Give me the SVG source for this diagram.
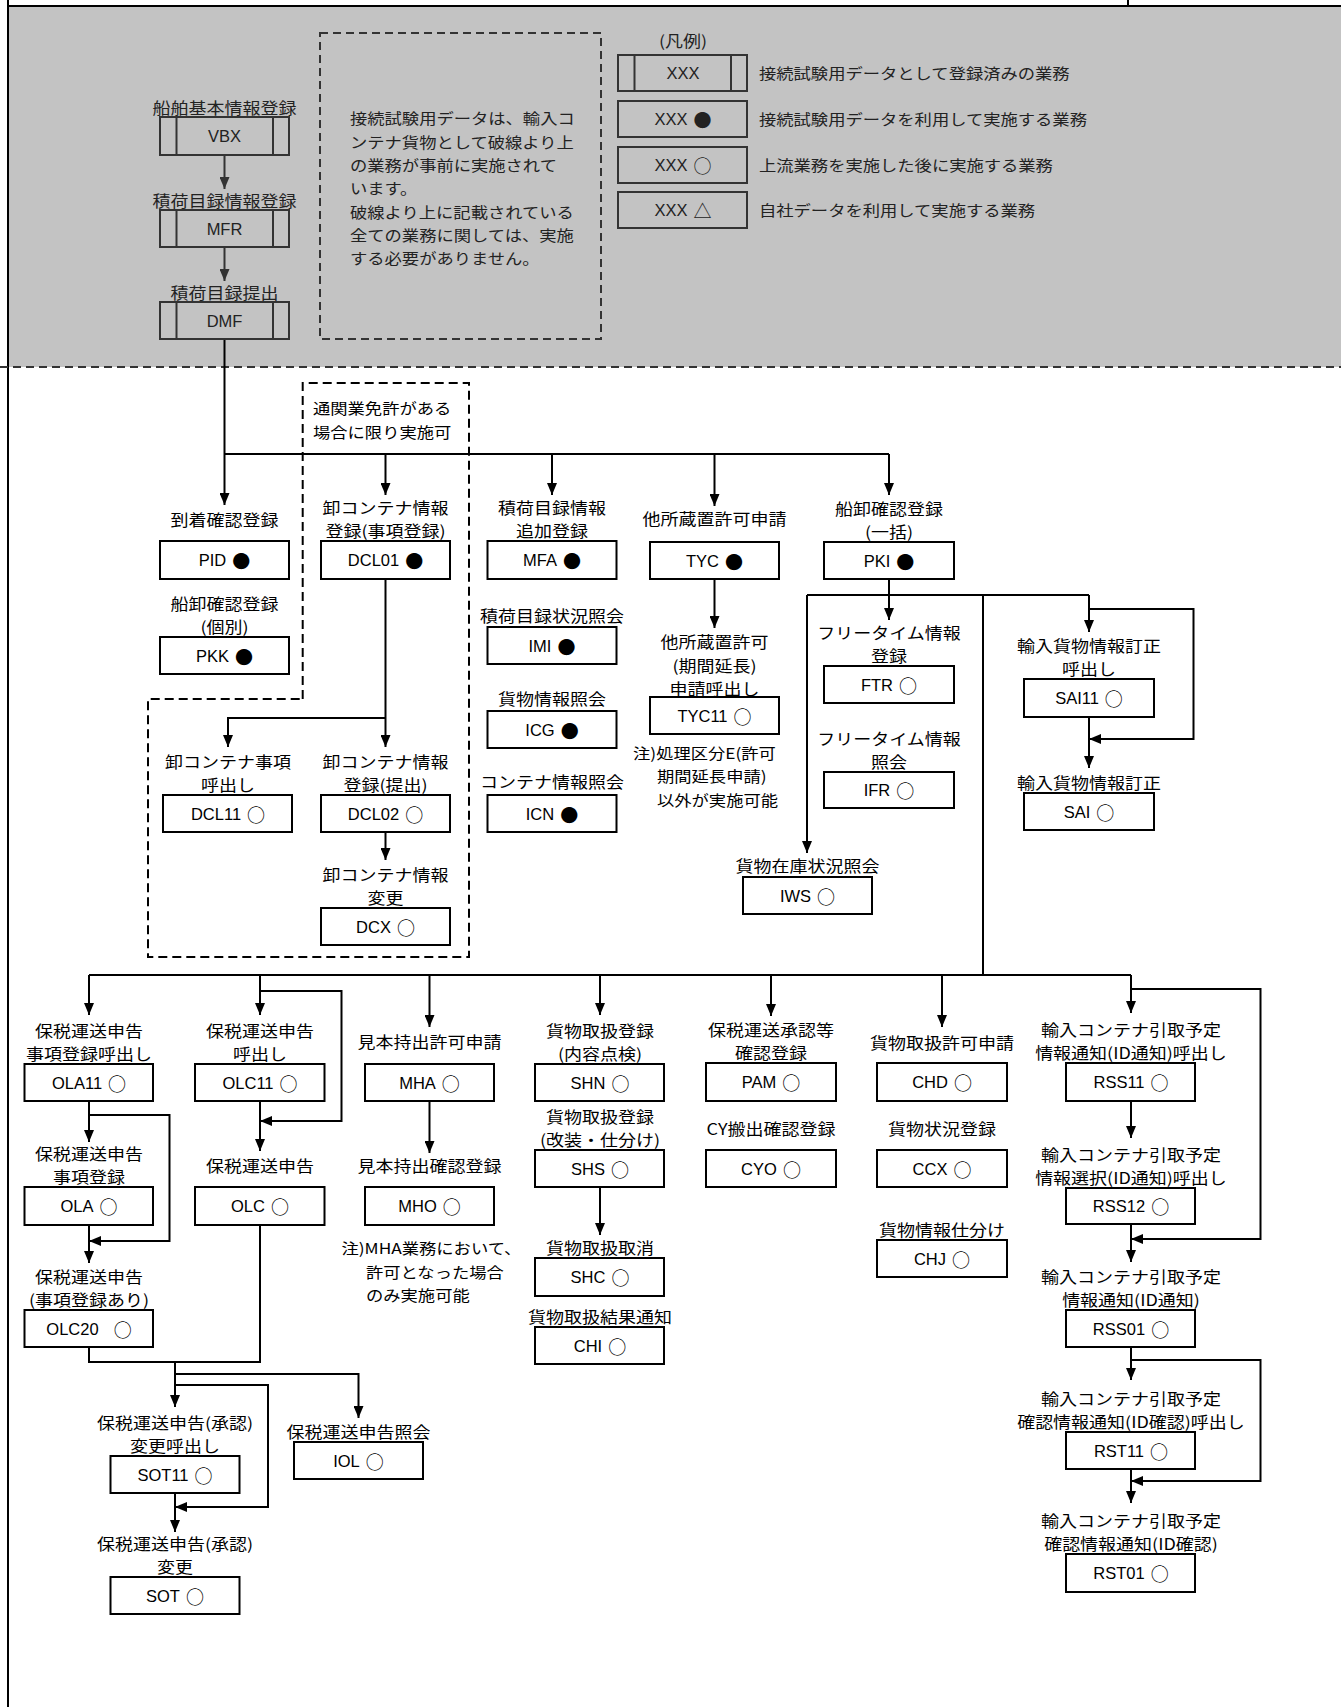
<svg xmlns="http://www.w3.org/2000/svg" width="1341" height="1707" viewBox="0 0 1341 1707">
<defs>
<style>
.t{font-family:"Noto Sans CJK JP","Liberation Sans",sans-serif;font-size:18px;fill:#000;text-anchor:middle;dominant-baseline:central;transform-box:fill-box;transform-origin:50% 50%;transform:scaleY(0.87)}
.tl{font-family:"Noto Sans CJK JP","Liberation Sans",sans-serif;font-size:17.3px;fill:#000;dominant-baseline:central;transform-box:fill-box;transform-origin:50% 50%;transform:scaleY(0.87)}
.bt{font-family:"Liberation Sans","Noto Sans CJK JP",sans-serif;font-size:16.5px;fill:#000;text-anchor:middle;dominant-baseline:central}
.sy{font-family:"Noto Sans CJK JP",sans-serif;font-size:18px}
.tg{fill:#222}
.b{fill:#fff;stroke:#000;stroke-width:2}
.gb{fill:none;stroke:#333;stroke-width:2}
.c{fill:none;stroke:#000;stroke-width:2}
.ca{fill:none;stroke:#000;stroke-width:2;marker-end:url(#ah)}
.gc{fill:none;stroke:#333;stroke-width:2;marker-end:url(#ahg)}
.d{fill:none;stroke:#000;stroke-width:2;stroke-dasharray:9 5}
.gd{fill:none;stroke:#333;stroke-width:2;stroke-dasharray:8 5}
</style>
<marker id="ah" markerUnits="userSpaceOnUse" markerWidth="12" markerHeight="10" refX="12" refY="5" orient="auto"><path d="M0,0 L12,5 L0,10 z" fill="#000"/></marker>
<marker id="ahg" markerUnits="userSpaceOnUse" markerWidth="12" markerHeight="10" refX="12" refY="5" orient="auto"><path d="M0,0 L12,5 L0,10 z" fill="#333"/></marker>
</defs>
<rect x="0" y="0" width="1341" height="1707" fill="#fff"/>
<rect x="8" y="6" width="1333" height="361" fill="#c3c3c3"/>
<g id="frame">
<line class="c" x1="8" y1="0" x2="8" y2="1707"/>
<line class="c" x1="8" y1="6" x2="1341" y2="6"/>
<line class="c" x1="1128" y1="0" x2="1128" y2="6"/>
<line class="gd" x1="0" y1="367" x2="1341" y2="367"/>
</g>
<g id="note-top">
<rect class="gd" x="320" y="33" width="281" height="306"/>
<text class="tl tg" x="350" y="118">接続試験用データは、輸入コ</text>
<text class="tl tg" x="350" y="142">ンテナ貨物として破線より上</text>
<text class="tl tg" x="350" y="165">の業務が事前に実施されて</text>
<text class="tl tg" x="350" y="188">います。</text>
<text class="tl tg" x="350" y="212">破線より上に記載されている</text>
<text class="tl tg" x="350" y="235">全ての業務に関しては、実施</text>
<text class="tl tg" x="350" y="258">する必要がありません。</text>
</g>
<g id="legend">
<text class="t tg" x="683" y="40">(凡例)</text>
<rect class="gb" x="618" y="55" width="129" height="36"/>
<line class="gb" x1="634.5" y1="55" x2="634.5" y2="91"/>
<line class="gb" x1="731" y1="55" x2="731" y2="91"/>
<text class="bt tg" x="683" y="73">XXX</text>
<rect class="gb" x="618" y="101" width="129" height="36"/>
<text class="bt tg" x="683" y="119">XXX<tspan class="sy" dx="6">●</tspan></text>
<rect class="gb" x="618" y="147" width="129" height="36"/>
<text class="bt tg" x="683" y="165">XXX<tspan class="sy" dx="6">○</tspan></text>
<rect class="gb" x="618" y="192" width="129" height="36"/>
<text class="bt tg" x="683" y="210">XXX<tspan class="sy" dx="6">△</tspan></text>
<text class="tl tg" x="759" y="73">接続試験用データとして登録済みの業務</text>
<text class="tl tg" x="759" y="119">接続試験用データを利用して実施する業務</text>
<text class="tl tg" x="759" y="165">上流業務を実施した後に実施する業務</text>
<text class="tl tg" x="759" y="210">自社データを利用して実施する業務</text>
</g>
<g id="connectors">
<line class="gc" x1="224.5" y1="155" x2="224.5" y2="189"/>
<line class="gc" x1="224.5" y1="247" x2="224.5" y2="281"/>
<line class="ca" x1="224.5" y1="339" x2="224.5" y2="505"/>
<line class="c" x1="224.5" y1="454" x2="889" y2="454"/>
<line class="ca" x1="385.5" y1="454" x2="385.5" y2="495"/>
<line class="ca" x1="552" y1="454" x2="552" y2="495"/>
<line class="ca" x1="714.5" y1="454" x2="714.5" y2="506"/>
<line class="ca" x1="889" y1="454" x2="889" y2="495"/>
<line class="ca" x1="385.5" y1="579" x2="385.5" y2="747"/>
<polyline class="ca" points="385.5,718 228,718 228,747"/>
<line class="ca" x1="385.5" y1="832" x2="385.5" y2="860"/>
<line class="ca" x1="714.5" y1="579" x2="714.5" y2="628"/>
<line class="ca" x1="889" y1="579" x2="889" y2="620"/>
<line class="c" x1="807" y1="595" x2="1089" y2="595"/>
<line class="ca" x1="807" y1="595" x2="807" y2="853"/>
<line class="c" x1="983" y1="595" x2="983" y2="975"/>
<line class="ca" x1="1089" y1="595" x2="1089" y2="632"/>
<polyline class="ca" points="1089,609 1193.5,609 1193.5,739 1089,739"/>
<line class="ca" x1="1089" y1="717" x2="1089" y2="768"/>
<line class="c" x1="89" y1="975" x2="1131" y2="975"/>
<line class="ca" x1="89" y1="975" x2="89" y2="1015"/>
<line class="ca" x1="260" y1="975" x2="260" y2="1015"/>
<line class="ca" x1="429.5" y1="975" x2="429.5" y2="1027"/>
<line class="ca" x1="600" y1="975" x2="600" y2="1015"/>
<line class="ca" x1="771" y1="975" x2="771" y2="1016"/>
<line class="ca" x1="942" y1="975" x2="942" y2="1027"/>
<line class="ca" x1="1131" y1="975" x2="1131" y2="1013"/>
<polyline class="ca" points="260,991 341.5,991 341.5,1121 260,1121"/>
<line class="ca" x1="260" y1="1101" x2="260" y2="1151"/>
<line class="ca" x1="89" y1="1101" x2="89" y2="1142"/>
<polyline class="ca" points="89,1115 169.5,1115 169.5,1241 89,1241"/>
<line class="ca" x1="89" y1="1225" x2="89" y2="1263"/>
<line class="ca" x1="429.5" y1="1101" x2="429.5" y2="1153"/>
<line class="ca" x1="600" y1="1187" x2="600" y2="1235"/>
<polyline class="c" points="89,1347 89,1362 260,1362 260,1225"/>
<line class="ca" x1="175" y1="1362" x2="175" y2="1407"/>
<polyline class="ca" points="175,1374 358.5,1374 358.5,1418"/>
<polyline class="ca" points="175,1385 268,1385 268,1507 175,1507"/>
<line class="ca" x1="175" y1="1493" x2="175" y2="1532"/>
<polyline class="ca" points="1131,989 1260.5,989 1260.5,1239 1131,1239"/>
<line class="ca" x1="1131" y1="1101" x2="1131" y2="1138"/>
<line class="ca" x1="1131" y1="1224" x2="1131" y2="1262"/>
<polyline class="ca" points="1131,1360 1260.5,1360 1260.5,1481 1131,1481"/>
<line class="ca" x1="1131" y1="1347" x2="1131" y2="1380"/>
<line class="ca" x1="1131" y1="1469" x2="1131" y2="1503"/>
</g>
<g id="n-VBX">
<text class="t tg" x="224.5" y="107">船舶基本情報登録</text>
<rect class="gb" x="160" y="117" width="129" height="38"/>
<line class="gb" x1="176.5" y1="117" x2="176.5" y2="155"/>
<line class="gb" x1="273" y1="117" x2="273" y2="155"/>
<text class="bt tg" x="224.5" y="136">VBX</text>
</g>
<g id="n-MFR">
<text class="t tg" x="224.5" y="200">積荷目録情報登録</text>
<rect class="gb" x="160" y="210" width="129" height="37"/>
<line class="gb" x1="176.5" y1="210" x2="176.5" y2="247"/>
<line class="gb" x1="273" y1="210" x2="273" y2="247"/>
<text class="bt tg" x="224.5" y="228.5">MFR</text>
</g>
<g id="n-DMF">
<text class="t tg" x="224.5" y="292.5">積荷目録提出</text>
<rect class="gb" x="160" y="302" width="129" height="37"/>
<line class="gb" x1="176.5" y1="302" x2="176.5" y2="339"/>
<line class="gb" x1="273" y1="302" x2="273" y2="339"/>
<text class="bt tg" x="224.5" y="320.5">DMF</text>
</g>
<g id="customs-zone">
<path class="d" d="M302.7,699 L302.7,383 L469,383 L469,957 L148,957 L148,699 Z"/>
<text class="tl" x="313" y="408">通関業免許がある</text>
<text class="tl" x="313" y="432">場合に限り実施可</text>
</g>
<g id="n-PID">
<text class="t" x="224.5" y="519">到着確認登録</text>
<rect class="b" x="160" y="541" width="129" height="38"/>
<text class="bt" x="224.5" y="560">PID<tspan class="sy" dx="6">●</tspan></text>
</g>
<g id="n-PKK">
<text class="t" x="224.5" y="603">船卸確認登録</text>
<text class="t" x="224.5" y="626.5">(個別)</text>
<rect class="b" x="160" y="637" width="129" height="37"/>
<text class="bt" x="224.5" y="655.5">PKK<tspan class="sy" dx="6">●</tspan></text>
</g>
<g id="n-DCL01">
<text class="t" x="385.5" y="507">卸コンテナ情報</text>
<text class="t" x="385.5" y="530.5">登録(事項登録)</text>
<rect class="b" x="321" y="541" width="129" height="38"/>
<text class="bt" x="385.5" y="560">DCL01<tspan class="sy" dx="6">●</tspan></text>
</g>
<g id="n-MFA">
<text class="t" x="552" y="507">積荷目録情報</text>
<text class="t" x="552" y="530.5">追加登録</text>
<rect class="b" x="487.5" y="541" width="129" height="38"/>
<text class="bt" x="552" y="560">MFA<tspan class="sy" dx="6">●</tspan></text>
</g>
<g id="n-IMI">
<text class="t" x="552" y="615">積荷目録状況照会</text>
<rect class="b" x="487.5" y="627" width="129" height="37"/>
<text class="bt" x="552" y="645.5">IMI<tspan class="sy" dx="6">●</tspan></text>
</g>
<g id="n-ICG">
<text class="t" x="552" y="698">貨物情報照会</text>
<rect class="b" x="487.5" y="711" width="129" height="37"/>
<text class="bt" x="552" y="729.5">ICG<tspan class="sy" dx="6">●</tspan></text>
</g>
<g id="n-ICN">
<text class="t" x="552" y="781">コンテナ情報照会</text>
<rect class="b" x="487.5" y="795" width="129" height="37"/>
<text class="bt" x="552" y="813.5">ICN<tspan class="sy" dx="6">●</tspan></text>
</g>
<g id="n-TYC">
<text class="t" x="714.5" y="518">他所蔵置許可申請</text>
<rect class="b" x="650" y="542" width="129" height="37"/>
<text class="bt" x="714.5" y="560.5">TYC<tspan class="sy" dx="6">●</tspan></text>
</g>
<g id="n-TYC11">
<text class="t" x="714.5" y="641.5">他所蔵置許可</text>
<text class="t" x="714.5" y="665">(期間延長)</text>
<text class="t" x="714.5" y="688">申請呼出し</text>
<rect class="b" x="650" y="697" width="129" height="37"/>
<text class="bt" x="714.5" y="715.5">TYC11<tspan class="sy" dx="6">○</tspan></text>
</g>
<g id="note-TYC">
<text class="tl" x="633" y="753">注)処理区分E(許可</text>
<text class="tl" x="657" y="776">期間延長申請)</text>
<text class="tl" x="657" y="800">以外が実施可能</text>
</g>
<g id="n-PKI">
<text class="t" x="889" y="508">船卸確認登録</text>
<text class="t" x="889" y="531.5">(一括)</text>
<rect class="b" x="824" y="542" width="130" height="37"/>
<text class="bt" x="889" y="560.5">PKI<tspan class="sy" dx="6">●</tspan></text>
</g>
<g id="n-FTR">
<text class="t" x="889" y="632">フリータイム情報</text>
<text class="t" x="889" y="655.5">登録</text>
<rect class="b" x="824" y="666" width="130" height="37"/>
<text class="bt" x="889" y="684.5">FTR<tspan class="sy" dx="6">○</tspan></text>
</g>
<g id="n-IFR">
<text class="t" x="889" y="738">フリータイム情報</text>
<text class="t" x="889" y="761.5">照会</text>
<rect class="b" x="824" y="772" width="130" height="36"/>
<text class="bt" x="889" y="790">IFR<tspan class="sy" dx="6">○</tspan></text>
</g>
<g id="n-IWS">
<text class="t" x="807.5" y="865">貨物在庫状況照会</text>
<rect class="b" x="743" y="877" width="129" height="37"/>
<text class="bt" x="807.5" y="895.5">IWS<tspan class="sy" dx="6">○</tspan></text>
</g>
<g id="n-SAI11">
<text class="t" x="1089" y="645">輸入貨物情報訂正</text>
<text class="t" x="1089" y="668.5">呼出し</text>
<rect class="b" x="1024" y="679" width="130" height="38"/>
<text class="bt" x="1089" y="698">SAI11<tspan class="sy" dx="6">○</tspan></text>
</g>
<g id="n-SAI">
<text class="t" x="1089" y="782">輸入貨物情報訂正</text>
<rect class="b" x="1024" y="793" width="130" height="37"/>
<text class="bt" x="1089" y="811.5">SAI<tspan class="sy" dx="6">○</tspan></text>
</g>
<g id="n-DCL11">
<text class="t" x="228" y="761">卸コンテナ事項</text>
<text class="t" x="228" y="784.5">呼出し</text>
<rect class="b" x="163" y="795" width="129" height="37"/>
<text class="bt" x="228" y="813.5">DCL11<tspan class="sy" dx="6">○</tspan></text>
</g>
<g id="n-DCL02">
<text class="t" x="385.5" y="761">卸コンテナ情報</text>
<text class="t" x="385.5" y="784.5">登録(提出)</text>
<rect class="b" x="321" y="795" width="129" height="37"/>
<text class="bt" x="385.5" y="813.5">DCL02<tspan class="sy" dx="6">○</tspan></text>
</g>
<g id="n-DCX">
<text class="t" x="385.5" y="874">卸コンテナ情報</text>
<text class="t" x="385.5" y="897.5">変更</text>
<rect class="b" x="321" y="908" width="129" height="37"/>
<text class="bt" x="385.5" y="926.5">DCX<tspan class="sy" dx="6">○</tspan></text>
</g>
<g id="n-OLA11">
<text class="t" x="89" y="1030">保税運送申告</text>
<text class="t" x="89" y="1053.5">事項登録呼出し</text>
<rect class="b" x="24.5" y="1064" width="128.5" height="37"/>
<text class="bt" x="89" y="1082.5">OLA11<tspan class="sy" dx="6">○</tspan></text>
</g>
<g id="n-OLA">
<text class="t" x="89" y="1153">保税運送申告</text>
<text class="t" x="89" y="1176.5">事項登録</text>
<rect class="b" x="24.5" y="1187" width="128.5" height="38"/>
<text class="bt" x="89" y="1206">OLA<tspan class="sy" dx="6">○</tspan></text>
</g>
<g id="n-OLC20">
<text class="t" x="89" y="1276">保税運送申告</text>
<text class="t" x="89" y="1299.5">(事項登録あり)</text>
<rect class="b" x="24.5" y="1310" width="128.5" height="37"/>
<text class="bt" x="89" y="1328.5">OLC20<tspan class="sy" dx="15">○</tspan></text>
</g>
<g id="n-OLC11">
<text class="t" x="260" y="1030">保税運送申告</text>
<text class="t" x="260" y="1053.5">呼出し</text>
<rect class="b" x="195" y="1064" width="129.5" height="37"/>
<text class="bt" x="260" y="1082.5">OLC11<tspan class="sy" dx="6">○</tspan></text>
</g>
<g id="n-OLC">
<text class="t" x="260" y="1165">保税運送申告</text>
<rect class="b" x="195" y="1187" width="129.5" height="38"/>
<text class="bt" x="260" y="1206">OLC<tspan class="sy" dx="6">○</tspan></text>
</g>
<g id="n-MHA">
<text class="t" x="429.5" y="1041">見本持出許可申請</text>
<rect class="b" x="365" y="1064" width="129" height="37"/>
<text class="bt" x="429.5" y="1082.5">MHA<tspan class="sy" dx="6">○</tspan></text>
</g>
<g id="n-MHO">
<text class="t" x="429.5" y="1165">見本持出確認登録</text>
<rect class="b" x="365" y="1187" width="129" height="38"/>
<text class="bt" x="429.5" y="1206">MHO<tspan class="sy" dx="6">○</tspan></text>
</g>
<g id="note-MHA">
<text class="tl" x="341.5" y="1248">注)MHA業務において、</text>
<text class="tl" x="366" y="1272">許可となった場合</text>
<text class="tl" x="366" y="1295">のみ実施可能</text>
</g>
<g id="n-SHN">
<text class="t" x="600" y="1030">貨物取扱登録</text>
<text class="t" x="600" y="1053.5">(内容点検)</text>
<rect class="b" x="535" y="1064" width="129" height="37"/>
<text class="bt" x="600" y="1082.5">SHN<tspan class="sy" dx="6">○</tspan></text>
</g>
<g id="n-SHS">
<text class="t" x="600" y="1116">貨物取扱登録</text>
<text class="t" x="600" y="1139.5">(改装・仕分け)</text>
<rect class="b" x="535" y="1150" width="129" height="37"/>
<text class="bt" x="600" y="1168.5">SHS<tspan class="sy" dx="6">○</tspan></text>
</g>
<g id="n-SHC">
<text class="t" x="600" y="1247.5">貨物取扱取消</text>
<rect class="b" x="535" y="1258" width="129" height="38"/>
<text class="bt" x="600" y="1277">SHC<tspan class="sy" dx="6">○</tspan></text>
</g>
<g id="n-CHI">
<text class="t" x="600" y="1316.5">貨物取扱結果通知</text>
<rect class="b" x="535" y="1327" width="129" height="37"/>
<text class="bt" x="600" y="1345.5">CHI<tspan class="sy" dx="6">○</tspan></text>
</g>
<g id="n-PAM">
<text class="t" x="771" y="1029">保税運送承認等</text>
<text class="t" x="771" y="1052.5">確認登録</text>
<rect class="b" x="706" y="1063" width="130" height="38"/>
<text class="bt" x="771" y="1082">PAM<tspan class="sy" dx="6">○</tspan></text>
</g>
<g id="n-CYO">
<text class="t" x="771" y="1128">CY搬出確認登録</text>
<rect class="b" x="706" y="1150" width="130" height="37"/>
<text class="bt" x="771" y="1168.5">CYO<tspan class="sy" dx="6">○</tspan></text>
</g>
<g id="n-CHD">
<text class="t" x="942" y="1042">貨物取扱許可申請</text>
<rect class="b" x="877" y="1063" width="130" height="38"/>
<text class="bt" x="942" y="1082">CHD<tspan class="sy" dx="6">○</tspan></text>
</g>
<g id="n-CCX">
<text class="t" x="942" y="1128">貨物状況登録</text>
<rect class="b" x="877" y="1150" width="130" height="37"/>
<text class="bt" x="942" y="1168.5">CCX<tspan class="sy" dx="6">○</tspan></text>
</g>
<g id="n-CHJ">
<text class="t" x="942" y="1229.5">貨物情報仕分け</text>
<rect class="b" x="877" y="1240" width="130" height="37"/>
<text class="bt" x="942" y="1258.5">CHJ<tspan class="sy" dx="6">○</tspan></text>
</g>
<g id="n-RSS11">
<text class="t" x="1131" y="1029">輸入コンテナ引取予定</text>
<text class="t" x="1131" y="1052.5">情報通知(ID通知)呼出し</text>
<rect class="b" x="1066" y="1063" width="129" height="38"/>
<text class="bt" x="1131" y="1082">RSS11<tspan class="sy" dx="6">○</tspan></text>
</g>
<g id="n-RSS12">
<text class="t" x="1131" y="1154">輸入コンテナ引取予定</text>
<text class="t" x="1131" y="1177.5">情報選択(ID通知)呼出し</text>
<rect class="b" x="1066" y="1188" width="129" height="36"/>
<text class="bt" x="1131" y="1206">RSS12<tspan class="sy" dx="6">○</tspan></text>
</g>
<g id="n-RSS01">
<text class="t" x="1131" y="1276">輸入コンテナ引取予定</text>
<text class="t" x="1131" y="1299.5">情報通知(ID通知)</text>
<rect class="b" x="1066" y="1310" width="129" height="37"/>
<text class="bt" x="1131" y="1328.5">RSS01<tspan class="sy" dx="6">○</tspan></text>
</g>
<g id="n-RST11">
<text class="t" x="1131" y="1398">輸入コンテナ引取予定</text>
<text class="t" x="1131" y="1421.5">確認情報通知(ID確認)呼出し</text>
<rect class="b" x="1066" y="1432" width="129" height="37"/>
<text class="bt" x="1131" y="1450.5">RST11<tspan class="sy" dx="6">○</tspan></text>
</g>
<g id="n-RST01">
<text class="t" x="1131" y="1520">輸入コンテナ引取予定</text>
<text class="t" x="1131" y="1543.5">確認情報通知(ID確認)</text>
<rect class="b" x="1066" y="1554" width="129" height="38"/>
<text class="bt" x="1131" y="1573">RST01<tspan class="sy" dx="6">○</tspan></text>
</g>
<g id="n-SOT11">
<text class="t" x="175" y="1422">保税運送申告(承認)</text>
<text class="t" x="175" y="1445.5">変更呼出し</text>
<rect class="b" x="110.5" y="1456" width="129" height="37"/>
<text class="bt" x="175" y="1474.5">SOT11<tspan class="sy" dx="6">○</tspan></text>
</g>
<g id="n-SOT">
<text class="t" x="175" y="1543">保税運送申告(承認)</text>
<text class="t" x="175" y="1566.5">変更</text>
<rect class="b" x="110.5" y="1577" width="129" height="37"/>
<text class="bt" x="175" y="1595.5">SOT<tspan class="sy" dx="6">○</tspan></text>
</g>
<g id="n-IOL">
<text class="t" x="358.5" y="1431.5">保税運送申告照会</text>
<rect class="b" x="294" y="1442" width="129" height="37"/>
<text class="bt" x="358.5" y="1460.5">IOL<tspan class="sy" dx="6">○</tspan></text>
</g>
</svg>
